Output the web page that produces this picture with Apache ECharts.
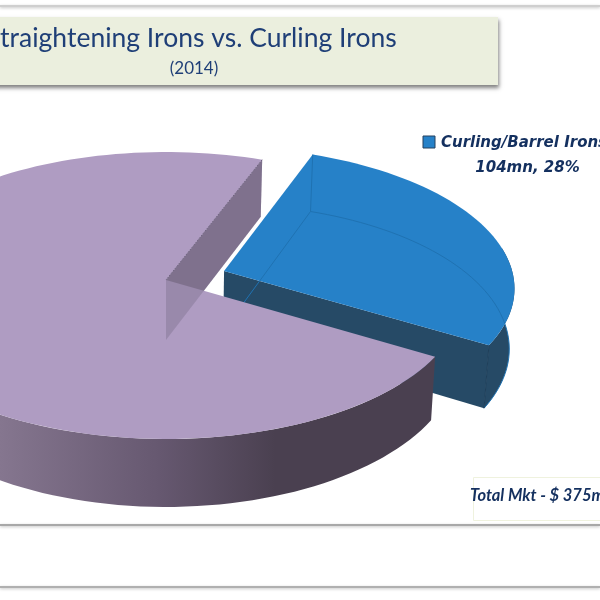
<!DOCTYPE html>
<html><head><meta charset="utf-8">
<style>html,body{margin:0;padding:0;background:#fff}#c{width:600px;height:600px;filter:blur(0.4px)}</style>
<script src="https://cdn.jsdelivr.net/npm/echarts@6/dist/echarts.min.js"></script>
</head><body><div id="c"></div>
<script>
// data
const categories = ['Curling/Barrel Irons', 'Straightening Irons'];
const marketMn = [104, 271];
const titleText = 'Straightening Irons vs. Curling Irons';
const subtitleText = '(2014)';
const legendLine = 'Curling/Barrel Irons';
const legendValue = '104mn, 28%';
const totalText = 'Total Mkt - $ 375mn';

// look of the tilted pie
const topColors = ['#2681C8', '#AF9CC2'];
const wallColors = ['#264A66', '#887A96'];
const ink = '#1F3F77', inkDark = '#14305F';
const view = {ax:166, ay:280, rx:296, ry:141.8, p:0.108, startDeg:-69.04};
const explode = [[0.1975,-0.0631],[0,0]];
const radius = [0.98, 1];

function project(u, v, down) {
  const d = 1 - view.p * v;
  let x = view.ax + view.rx * u / d, y = view.ay + view.ry * v / d;
  if (down) { y += 60 + 5.53 * v + 2.47 * v * v; x = view.ax + (x - view.ax) * 0.985; }
  return [x, y];
}
function rimPoint(i, deg, down) {
  const t = deg * Math.PI / 180;
  return project(explode[i][0] + radius[i] * Math.cos(t), explode[i][1] + radius[i] * Math.sin(t), down);
}
function arc(i, a, b, down) {
  const pts = [], n = Math.max(2, Math.ceil(Math.abs(b - a) / 2));
  for (let k = 0; k <= n; k++) pts.push(rimPoint(i, a + (b - a) * k / n, down));
  return pts;
}
const hubOf = (i, down) => project(explode[i][0], explode[i][1], down);
const poly = (points, style, z2) => ({type:'polygon', shape:{points}, style, z2:z2||0, silent:true});
const line = (points, stroke, extra) => ({type:'polyline', shape:{points}, style:Object.assign({stroke, fill:null, lineWidth:1}, extra||{}), silent:true});

function renderSlice(params, api) {
  const i = params.dataIndex, total = marketMn.reduce((s, x) => s + x, 0);
  let before = 0;
  for (let k = 0; k < i; k++) before += api.value(1, k);
  const a0 = view.startDeg + before / total * 360;
  const a1 = a0 + api.value(1) / total * 360;
  const kids = [];
  if (i === 0) {
    // blue slice: outer wall, front cut face, top, hidden edges seen through
    const vis = arc(i, -10, a1), visB = arc(i, -10, a1, true).reverse();
    kids.push(poly(vis.concat(visB), {fill:wallColors[0]}));
    kids.push(poly([hubOf(i), rimPoint(i,a1), rimPoint(i,a1,true), hubOf(i,true)], {fill:wallColors[0]}));
    kids.push(poly([hubOf(i)].concat(arc(i, a0, a1)), {fill:topColors[0]}));
    kids.push(line([rimPoint(i,a0), rimPoint(i,a0,true), hubOf(i,true)], '#1F72B2'));
    kids.push(line(arc(i, a0, a1, true), '#1F72B2'));
    kids.push(line([rimPoint(i,a1), rimPoint(i,a1,true)], '#1E3F5A'));
  } else {
    // purple slice: cut wall, shaded outer wall, top, wall seen through the top
    const wall = [hubOf(i), rimPoint(i,a1), rimPoint(i,a1,true), hubOf(i,true)];
    kids.push(poly(wall, {fill:wallColors[1]}));
    const vis = arc(i, a0, 190), visB = arc(i, a0, 190, true).reverse();
    kids.push(poly(vis.concat(visB), {fill:{type:'linear', x:0, y:0, x2:290, y2:0, global:true,
      colorStops:[{offset:0,color:'#85768F'},{offset:0.55,color:'#665870'},{offset:0.95,color:'#4A4050'},{offset:1,color:'#4A4050'}]}}));
    kids.push(poly([hubOf(i)].concat(arc(i, a0, a1)), {fill:topColors[1]}));
    kids.push(poly(wall, {fill:'rgba(110,95,125,0.32)'}));
    kids.push(line([rimPoint(i,a1), hubOf(i)], '#6F6380', {lineDash:[2,1]}));
  }
  return {type:'group', children:kids};
}

const chart = echarts.init(document.getElementById('c'), null, {renderer:'canvas'});
const rule = (y, c) => ({type:'rect', shape:{x:0,y:y,width:600,height:2}, style:{fill:c, shadowColor:'rgba(0,0,0,0.25)', shadowBlur:3, shadowOffsetY:1}, silent:true});
chart.setOption({
  animation:false,
  backgroundColor:'#ffffff',
  xAxis:{show:false}, yAxis:{show:false},
  series:[{
    type:'custom', coordinateSystem:'none', renderItem:renderSlice,
    data:categories.map((c, i) => ({name:c, value:[i, marketMn[i]]})), z:2
  }],
  graphic:[
    rule(5,'#CFCFCF'), rule(524,'#A8A8A8'), rule(586,'#B0B0B0'),
    {type:'rect', z:1, shape:{x:-10,y:17,width:508,height:68}, style:{fill:'#EBEFDE', shadowColor:'rgba(0,0,0,0.5)', shadowBlur:4, shadowOffsetY:3, shadowOffsetX:1}},
    {type:'text', z:3, x:191.5, y:38, style:{text:titleText, fill:ink, font:'26.5px Lato', align:'center', verticalAlign:'middle'}},
    {type:'text', z:3, x:194, y:69, style:{text:subtitleText, fill:ink, font:'17px Lato', align:'center', verticalAlign:'middle'}},
    {type:'rect', z:3, shape:{x:423,y:136,width:12,height:12}, style:{fill:topColors[0], stroke:'#24405F', lineWidth:1}},
    {type:'text', z:3, x:441, y:143, style:{text:legendLine, fill:inkDark, font:'italic bold 15px "DejaVu Sans"', align:'left', verticalAlign:'middle'}},
    {type:'text', z:3, x:527.5, y:168, style:{text:legendValue, fill:inkDark, font:'italic bold 15px "DejaVu Sans"', align:'center', verticalAlign:'middle'}},
    {type:'rect', z:1, shape:{x:473.5,y:477.5,width:140,height:43}, style:{fill:'#fff', stroke:'#EFF2DE', lineWidth:1}},
    {type:'text', z:3, x:470, y:496, style:{text:totalText, fill:inkDark, font:'italic bold 16.5px Lato', align:'left', verticalAlign:'middle'}}
  ]
});
</script></body></html>
